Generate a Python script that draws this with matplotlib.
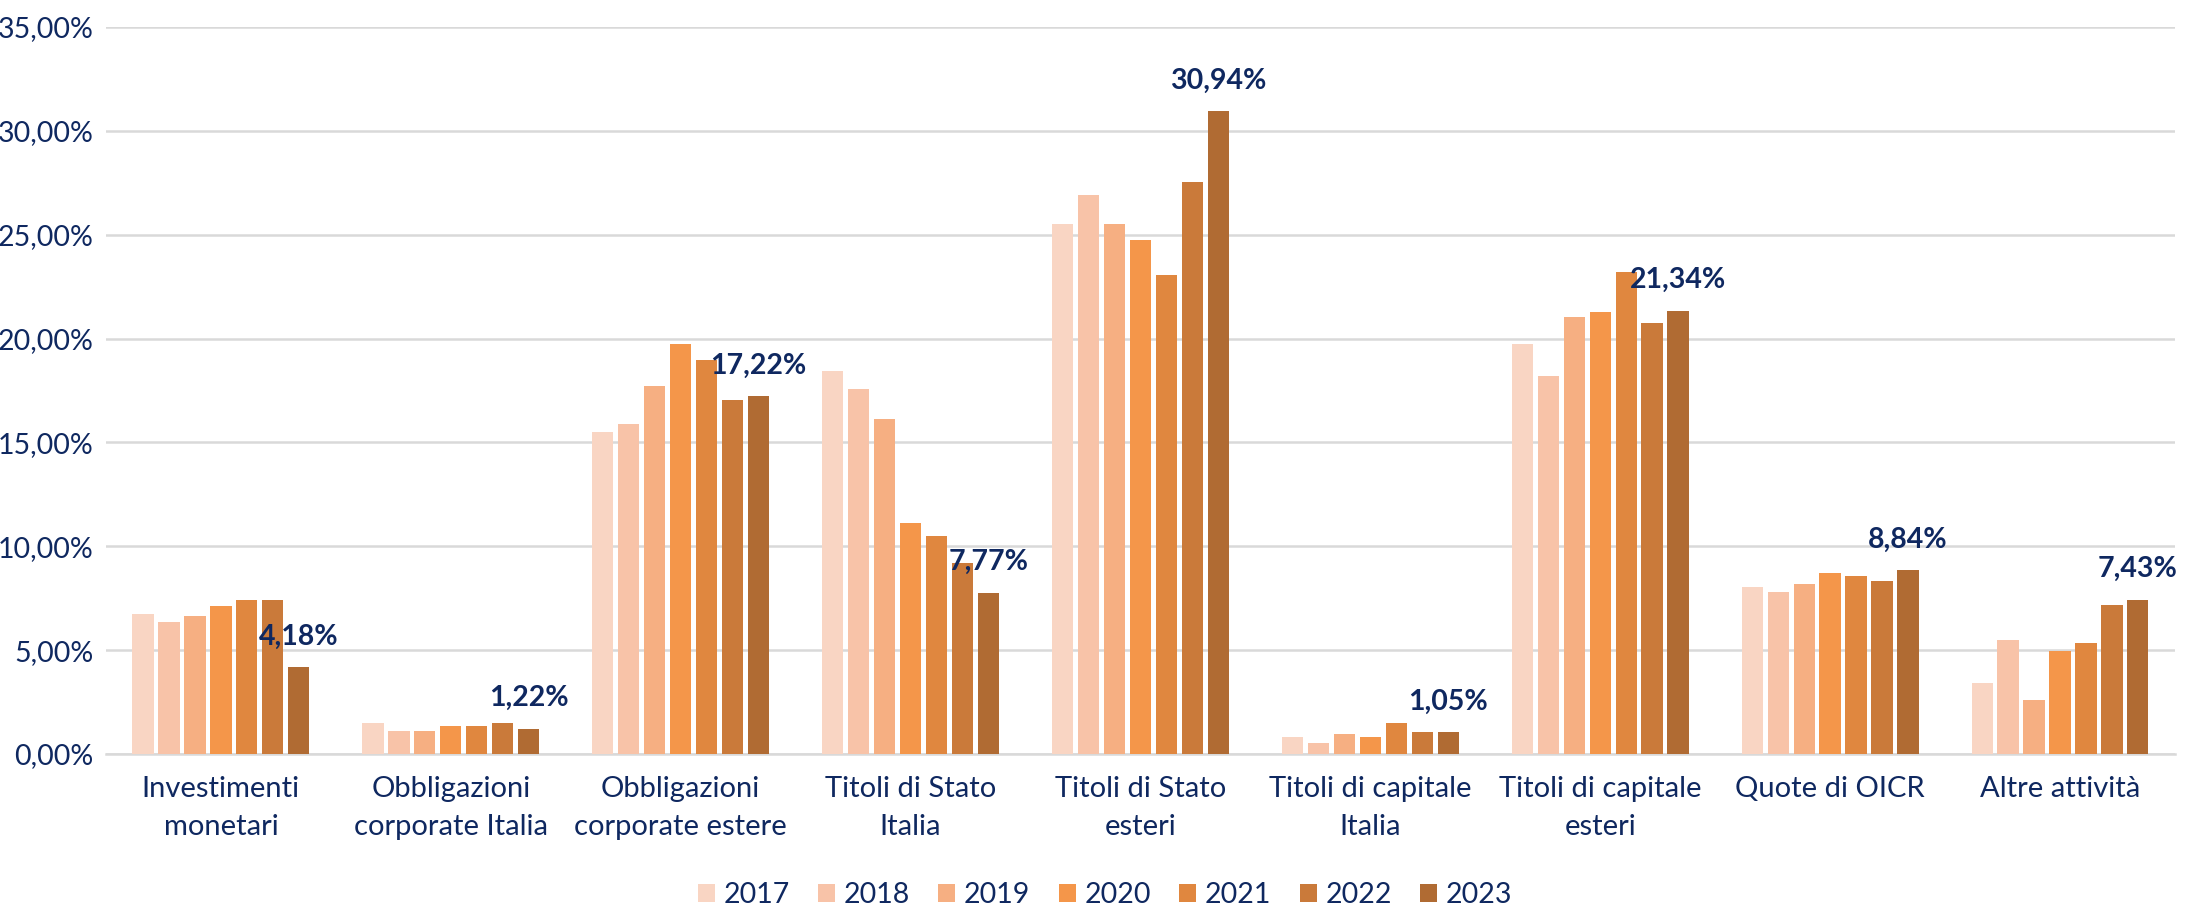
import numpy as np
import matplotlib
matplotlib.use("Agg")
import matplotlib.pyplot as plt

plt.rcParams['font.family'] = ['Lato', 'DejaVu Sans']

categories = ["Investimenti\nmonetari", "Obbligazioni\ncorporate Italia", "Obbligazioni\ncorporate estere",
              "Titoli di Stato\nItalia", "Titoli di Stato\nesteri", "Titoli di capitale\nItalia",
              "Titoli di capitale\nesteri", "Quote di OICR", "Altre attività"]
years = ['2017', '2018', '2019', '2020', '2021', '2022', '2023']

v2017 = [6.75, 1.47, 15.49, 18.45, 25.50, 0.83, 19.73, 8.06, 3.40]
v2018 = [6.36, 1.09, 15.90, 17.55, 26.92, 0.55, 18.20, 7.80, 5.47]
v2019 = [6.62, 1.09, 17.70, 16.14, 25.50, 0.96, 21.03, 8.20, 2.62]
v2020 = [7.14, 1.35, 19.73, 11.12, 24.74, 0.83, 21.26, 8.71, 4.97]
v2021 = [7.41, 1.35, 18.96, 10.48, 23.08, 1.48, 23.19, 8.58, 5.35]
v2022 = [7.41, 1.47, 17.03, 9.19, 27.55, 1.04, 20.77, 8.33, 7.16]
v2023 = [4.18, 1.22, 17.22, 7.77, 30.94, 1.05, 21.34, 8.84, 7.43]

colors = ['#F9D5C3', '#F8C3A8', '#F6AF82', '#F4964A', '#E0873F', '#CA7A3A', '#B06B33']
navy = '#0F2860'

series = [v2017, v2018, v2019, v2020, v2021, v2022, v2023]

fig = plt.figure(figsize=(21.85, 9.07), dpi=100)
ax = fig.add_axes([0.0485, 0.1687, 0.9469, 0.8015])

x = np.arange(len(categories))
slot = 0.79 / 7
for i, vals in enumerate(series):
    pos = x - 0.395 + slot * (i + 0.5)
    ax.bar(pos, vals, width=slot * 0.82, color=colors[i], label=years[i], zorder=3)

# labels on the 2023 bars
pos23 = x - 0.395 + slot * 6.5
for xp, v in zip(pos23, v2023):
    ax.annotate(f"{v:.2f}%".replace('.', ','), (xp, v), xytext=(0, 22), textcoords='offset points',
                ha='center', va='center', fontsize=20.5, fontweight='bold', color=navy, zorder=5)

ax.set_xlim(-0.5, len(categories) - 0.5)
ax.set_ylim(0, 35)
ax.set_yticks(np.arange(0, 36, 5))
ax.set_yticklabels([f"{t:.2f}%".replace('.', ',') for t in np.arange(0, 36, 5)], fontsize=20.5)
ax.set_xticks(x)
ax.set_xticklabels(categories, linespacing=1.55, fontsize=21)
ax.tick_params(axis='both', length=0, labelcolor=navy)
ax.tick_params(axis='x', pad=16)
ax.tick_params(axis='y', pad=9)

ax.grid(axis='y', color='#D9D9D9', linewidth=1.8, zorder=0)
for s in ['top', 'right', 'left']:
    ax.spines[s].set_visible(False)
ax.spines['bottom'].set_color('#D9D9D9')
ax.spines['bottom'].set_linewidth(1.8)

leg = fig.legend(loc='center', bbox_to_anchor=(0.5057, 0.013), ncol=7, frameon=False, fontsize=20.5,
                 handlelength=0.6, handleheight=0.6, handletextpad=0.3, columnspacing=1.0)
for t in leg.get_texts():
    t.set_color(navy)

fig.savefig('out.png', dpi=100)
